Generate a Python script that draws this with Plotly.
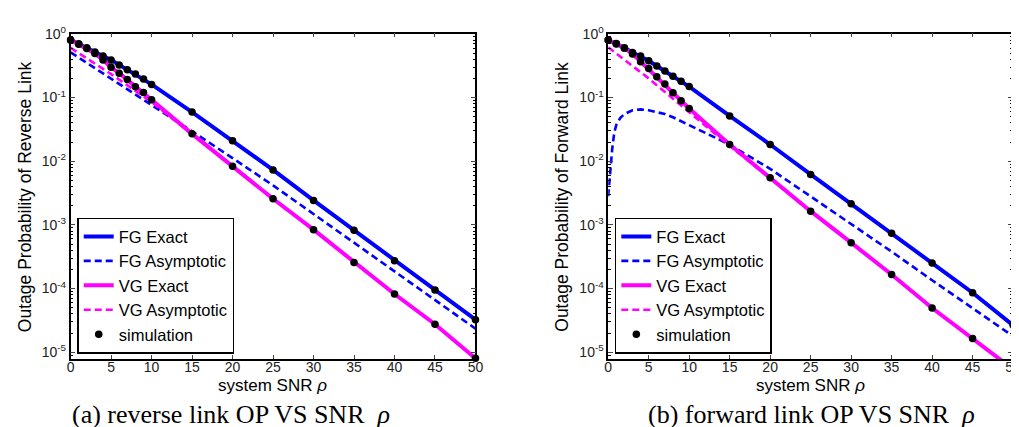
import plotly.graph_objects as go

# ---------------- data ----------------
snr_exact = [0, 1, 2, 3, 4, 5, 6, 7, 8, 9, 10, 15, 20, 25, 30, 35, 40, 45, 50]
snr_asym = [0, 5, 10, 15, 20, 25, 30, 35, 40, 45, 50]
snr_fg_asym_fwd = [0, 0.25, 0.5, 0.75, 1, 1.5, 2, 3, 4, 5, 6, 7, 8, 9, 10, 12.5, 15,
                   20, 25, 30, 35, 40, 45, 50]

# (a) reverse link
fg_exact_rev = [0.804, 0.698, 0.607, 0.521, 0.448, 0.389, 0.326, 0.273, 0.234, 0.196,
                0.161, 0.0592, 0.0210, 0.00731, 0.00242, 8.20e-4, 2.72e-4, 9.44e-5, 3.24e-5]
vg_exact_rev = [0.804, 0.69, 0.59, 0.491, 0.389, 0.299, 0.242, 0.192, 0.148, 0.120,
                0.0925, 0.0269, 0.00832, 0.00257, 8.41e-4, 2.57e-4, 8.20e-5, 2.75e-5, 8.0e-6]
fg_asym_rev = [0.513, 0.200, 0.0759, 0.0295, 0.0112, 0.00417, 0.00148, 5.25e-4,
               1.86e-4, 6.61e-5, 2.34e-5]
vg_asym_rev = [0.603, 0.234, 0.0851, 0.0263, 0.00822, 0.00257, 8.32e-4, 2.57e-4,
               8.20e-5, 2.75e-5, 8.0e-6]

# (b) forward link
fg_exact_fwd = [0.804, 0.708, 0.607, 0.512, 0.448, 0.379, 0.313, 0.262, 0.216, 0.181,
                0.149, 0.0514, 0.0183, 0.00619, 0.00215, 7.41e-4, 2.51e-4, 8.59e-5, 2.65e-5]
vg_exact_fwd = [0.804, 0.692, 0.596, 0.485, 0.366, 0.286, 0.212, 0.163, 0.119, 0.0893,
                0.0675, 0.0183, 0.00551, 0.00164, 5.25e-4, 1.66e-4, 4.94e-5, 1.64e-5, 5.4e-6]
fg_asym_fwd = [0.00282, 0.00794, 0.0158, 0.0282, 0.0372, 0.0479, 0.0550, 0.0631, 0.0653,
               0.0631, 0.0589, 0.0550, 0.0490, 0.0427, 0.0372, 0.0263, 0.0182, 0.00759,
               0.00282, 0.00105, 3.80e-4, 1.35e-4, 4.90e-5, 1.78e-5]
vg_asym_fwd = [0.617, 0.200, 0.0589, 0.0174, 0.00537, 0.00162, 5.19e-4, 1.64e-4,
               4.94e-5, 1.64e-5, 5.4e-6]

# simulation points (lie on the exact curves)
sim_snr = snr_exact
sim_snr_vg_fwd = snr_exact[:-1]  # last point falls below the axis

legend_names = ["FG Exact", "FG Asymptotic", "VG Exact", "VG Asymptotic", "simulation"]
x_ticks = [0, 5, 10, 15, 20, 25, 30, 35, 40, 45, 50]
y_tick_exps = [0, -1, -2, -3, -4, -5]
y_titles = ["Outage Probability of Reverse Link", "Outage Probability of Forward Link"]
captions = ["(a) reverse link OP VS SNR  <i>ρ</i>", "(b) forward link OP VS SNR  <i>ρ</i>"]
x_title = "system SNR <i>ρ</i>"

# ---------------- styling ----------------
BLUE = "#0000FF"
MAG = "#FF00FF"
SANS = "Liberation Sans, Arial, sans-serif"
SERIF = "Liberation Serif, Times New Roman, serif"
W, H = 1019, 427

fig = go.Figure()


def add_panel(idx, fg_e, fg_a_x, fg_a, vg_e, vg_a, sim_vg_x):
    xa = "x" if idx == 1 else "x2"
    ya = "y" if idx == 1 else "y2"
    lg = "legend" if idx == 1 else "legend2"
    fig.add_trace(go.Scatter(x=snr_exact, y=fg_e, mode="lines", name=legend_names[0],
                             line=dict(color=BLUE, width=4), xaxis=xa, yaxis=ya, legend=lg))
    fig.add_trace(go.Scatter(x=fg_a_x, y=fg_a, mode="lines", name=legend_names[1],
                             line=dict(color=BLUE, width=2.6, dash="7px,4px"),
                             xaxis=xa, yaxis=ya, legend=lg))
    fig.add_trace(go.Scatter(x=snr_exact, y=vg_e, mode="lines", name=legend_names[2],
                             line=dict(color=MAG, width=4), xaxis=xa, yaxis=ya, legend=lg))
    fig.add_trace(go.Scatter(x=snr_asym, y=vg_a, mode="lines", name=legend_names[3],
                             line=dict(color=MAG, width=2.6, dash="7px,4px"),
                             xaxis=xa, yaxis=ya, legend=lg))
    fig.add_trace(go.Scatter(x=list(sim_snr) + list(sim_vg_x),
                             y=list(fg_e) + list(vg_e[:len(sim_vg_x)]),
                             mode="markers", name=legend_names[4],
                             marker=dict(color="black", size=7.5), cliponaxis=False,
                             xaxis=xa, yaxis=ya, legend=lg))


add_panel(1, fg_exact_rev, snr_asym, fg_asym_rev, vg_exact_rev, vg_asym_rev, sim_snr)
add_panel(2, fg_exact_fwd, snr_fg_asym_fwd, fg_asym_fwd, vg_exact_fwd, vg_asym_fwd,
          sim_snr_vg_fwd)

minor_vals = [k * 10.0 ** e for e in range(-6, 0) for k in range(2, 10)]

xdom1 = [59.3 / W, 469.0 / W]
xdom2 = [603.3 / W, 1013.0 / W]
ydom = [(H - 350.0) / H, (H - 16.0) / H]

common_x = dict(range=[0, 50], tickvals=x_ticks, ticks="inside", ticklen=4,
                showline=True, linecolor="black", linewidth=1.5, mirror="ticks",
                showgrid=False, zeroline=False, ticklabelstandoff=-6,
                ticklabeloverflow="allow",
                tickfont=dict(family=SANS, size=14, color="#222"))
common_y = dict(type="log", range=[-5.107, 0.005],
                tickvals=[10.0 ** e for e in y_tick_exps],
                ticktext=["10<sup>%d</sup>" % e for e in y_tick_exps],
                ticks="inside", ticklen=5,
                minor=dict(tickvals=minor_vals, ticks="inside", ticklen=3,
                           tickcolor="black", showgrid=False),
                showline=True, linecolor="black", linewidth=1.5, mirror="ticks",
                showgrid=False, zeroline=False,
                tickfont=dict(family=SANS, size=14, color="#222"))

legend_common = dict(bgcolor="white", bordercolor="black", borderwidth=1.5,
                     font=dict(family=SANS, size=16.5, color="black"),
                     xanchor="left", yanchor="top", tracegroupgap=0)

fig.update_layout(
    width=W, height=H,
    margin=dict(l=0, r=0, t=0, b=0),
    paper_bgcolor="white", plot_bgcolor="white",
    xaxis=dict(domain=xdom1, anchor="y", **common_x),
    yaxis=dict(domain=ydom, anchor="x", **common_y),
    xaxis2=dict(domain=xdom2, anchor="y2", **common_x),
    yaxis2=dict(domain=ydom, anchor="x2", **common_y),
    legend=dict(x=66.0 / W, y=(H - 205.0) / H, **legend_common),
    legend2=dict(x=610.0 / W, y=(H - 205.0) / H, **legend_common),
)

annots = []
for i, (ytx, xt_cx, cap_cx, yt_cx) in enumerate(
        [(y_titles[0], 264.0, 222.0, 13.0), (y_titles[1], 808.0, 809.0, 557.0)]):
    annots.append(dict(text=ytx, x=yt_cx / W, y=(H - 183.0) / H, xref="paper", yref="paper",
                       textangle=-90, showarrow=False, xanchor="center", yanchor="middle",
                       font=dict(family=SANS, size=17.5, color="black")))
    annots.append(dict(text=x_title, x=xt_cx / W, y=(H - 377.0) / H, xref="paper", yref="paper",
                       showarrow=False, xanchor="center", yanchor="middle",
                       font=dict(family=SANS, size=17, color="black")))
    annots.append(dict(text=captions[i], x=cap_cx / W, y=(H - 407.0) / H, xref="paper",
                       yref="paper", showarrow=False, xanchor="center", yanchor="middle",
                       font=dict(family=SERIF, size=26, color="black")))
fig.update_layout(annotations=annots)

fig.write_html("out.html")
